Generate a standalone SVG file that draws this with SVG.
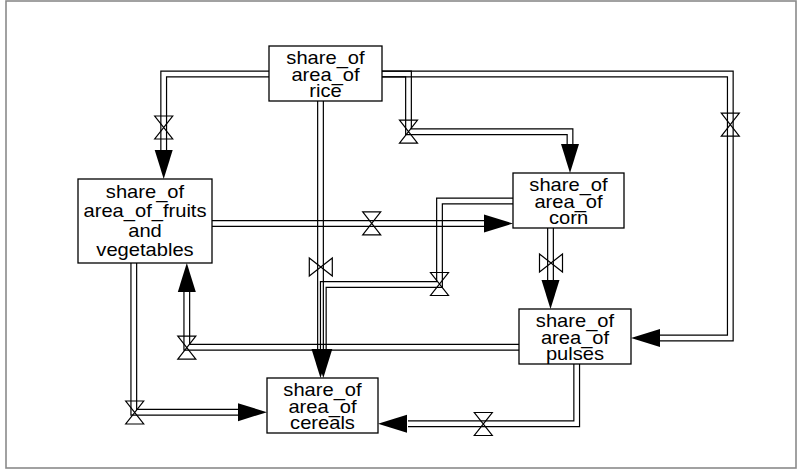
<svg xmlns="http://www.w3.org/2000/svg" xmlns:xlink="http://www.w3.org/1999/xlink" width="797" height="474" viewBox="0 0 797 474">
<style>
.frame{fill:#fff;stroke:#8a8a8a;stroke-width:1.6}
.box{fill:#fff;stroke:#000;stroke-width:1.3}
.lbl{font-family:"Liberation Sans",Arial,sans-serif;font-size:17.5px;fill:#000;text-anchor:middle}
.pipe{fill:none;stroke:#000;stroke-width:1.2}
.valve{fill:none;stroke:#000;stroke-width:1.2}
.head{fill:#000;stroke:none}
</style>
<defs>
<path id="hg" d="M-9,-11.5 H9 L-9,11.5 H9 Z"/>
<path id="bt" d="M-11.5,-9 V9 L11.5,-9 V9 Z"/>
<path id="ah" d="M0,0 L-29,-9 L-29,9 Z"/>
</defs>
<rect class="frame" x="6" y="1" width="790" height="467"/>
<g id="connectors">
  <!-- rice -> fruits -->
  <path class="pipe" d="M269,71.15 H160.85 V152 M269,76.85 H166.55 V152"/>
  <use class="valve" xlink:href="#hg" x="163.7" y="127.5"/>
  <use class="head" xlink:href="#ah" transform="translate(163.7,179) rotate(90)"/>
  <!-- rice -> pulses -->
  <path class="pipe" d="M382,71.15 H733.15 V340.85 H659 M382,76.85 H727.45 V335.15 H659"/>
  <use class="valve" xlink:href="#hg" x="730.3" y="124.7"/>
  <use class="head" xlink:href="#ah" transform="translate(631,338) rotate(180)"/>
  <!-- rice -> corn -->
  <path class="pipe" d="M382,71.15 H411.35 V128.85 H572.85 V145 M382,76.85 H405.65 V134.55 H567.15 V145"/>
  <use class="valve" xlink:href="#hg" x="408.5" y="131.7"/>
  <use class="head" xlink:href="#ah" transform="translate(570,173) rotate(90)"/>
  <!-- rice -> cereals -->
  <path class="pipe" d="M317.65,101 V351 M323.35,101 V351"/>
  <use class="valve" xlink:href="#bt" x="320.8" y="267"/>
  <use class="head" xlink:href="#ah" transform="translate(320.5,378) rotate(90)"/>
  <!-- corn -> cereals -->
  <path class="pipe" d="M513,198.15 H436.65 V281.65 H320.45 V351 M513,203.85 H442.35 V287.35 H326.15 V351"/>
  <use class="valve" xlink:href="#hg" x="439.5" y="284"/>
  <use class="head" xlink:href="#ah" transform="translate(323.3,378) rotate(90)"/>
  <!-- fruits -> corn -->
  <path class="pipe" d="M212,220.65 H485 M212,226.35 H485"/>
  <use class="valve" xlink:href="#hg" x="371.7" y="223.3"/>
  <use class="head" xlink:href="#ah" transform="translate(513,223.5)"/>
  <!-- corn -> pulses -->
  <path class="pipe" d="M547.65,228 V282 M553.35,228 V282"/>
  <use class="valve" xlink:href="#bt" x="551" y="263"/>
  <use class="head" xlink:href="#ah" transform="translate(550.5,309) rotate(90)"/>
  <!-- pulses -> fruits -->
  <path class="pipe" d="M519,344.35 H189.65 V292 M519,350.05 H183.95 V292"/>
  <use class="valve" xlink:href="#hg" x="186.8" y="347.6"/>
  <use class="head" xlink:href="#ah" transform="translate(186.8,263) rotate(-90)"/>
  <!-- fruits -> cereals -->
  <path class="pipe" d="M130.95,263 V415.05 H240 M136.65,263 V409.35 H240"/>
  <use class="valve" xlink:href="#hg" x="134.7" y="412.5"/>
  <use class="head" xlink:href="#ah" transform="translate(267,412.2)"/>
  <!-- pulses -> cereals -->
  <path class="pipe" d="M579.55,364 V426.65 H408 M573.85,364 V420.95 H408"/>
  <use class="valve" xlink:href="#hg" x="483.3" y="424"/>
  <use class="head" xlink:href="#ah" transform="translate(378,423.8) rotate(180)"/>
</g>
<g id="rice">
  <rect class="box" x="269" y="46" width="113" height="55"/>
  <g transform="translate(325.5,0) scale(1.15,1)">
    <text class="lbl" x="0" y="64">share_of</text>
    <text class="lbl" x="0" y="80.7">area_of</text>
    <text class="lbl" x="0" y="97.3">rice</text>
  </g>
</g>
<g id="fruits">
  <rect class="box" x="78" y="179" width="134" height="84"/>
  <g transform="translate(145,0) scale(1.15,1)">
    <text class="lbl" x="0" y="198">share_of</text>
    <text class="lbl" x="0" y="217.4">area_of_fruits</text>
    <text class="lbl" x="0" y="236.8">and</text>
    <text class="lbl" x="0" y="256.2">vegetables</text>
  </g>
</g>
<g id="corn">
  <rect class="box" x="513" y="173" width="111" height="55"/>
  <g transform="translate(568.5,0) scale(1.15,1)">
    <text class="lbl" x="0" y="191">share_of</text>
    <text class="lbl" x="0" y="207.7">area_of</text>
    <text class="lbl" x="0" y="224.3">corn</text>
  </g>
</g>
<g id="pulses">
  <rect class="box" x="519" y="309" width="112" height="55"/>
  <g transform="translate(575,0) scale(1.15,1)">
    <text class="lbl" x="0" y="327">share_of</text>
    <text class="lbl" x="0" y="343.7">area_of</text>
    <text class="lbl" x="0" y="360.3">pulses</text>
  </g>
</g>
<g id="cereals">
  <rect class="box" x="267" y="378" width="111" height="55"/>
  <g transform="translate(322.5,0) scale(1.15,1)">
    <text class="lbl" x="0" y="396">share_of</text>
    <text class="lbl" x="0" y="412.7">area_of</text>
    <text class="lbl" x="0" y="429.3">cereals</text>
  </g>
</g>
</svg>
